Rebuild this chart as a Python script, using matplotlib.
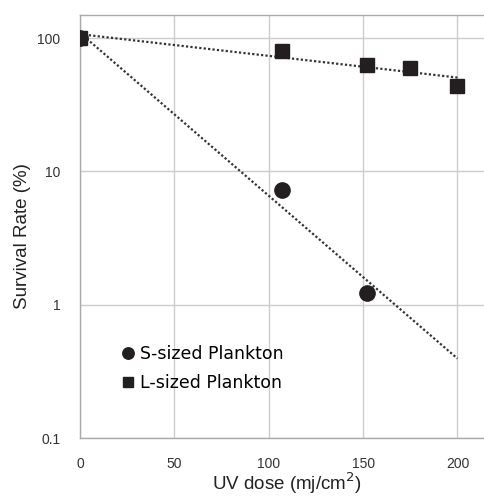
import numpy as np
import matplotlib.pyplot as plt

plt.rcParams['font.family'] = ['Liberation Sans', 'DejaVu Sans']

# data
dose_s = [0, 107, 152]
surv_s = [100, 7.3, 1.23]
dose_l = [0, 107, 152, 175, 200]
surv_l = [100, 79.8, 62.7, 59.6, 43.7]
x_ticks = [0, 50, 100, 150, 200]
y_ticks = [0.1, 1, 10, 100]
y_labels = ['0.1', '1', '10', '100']

ink = '#231f20'
grid_c = '#cccccc'

fig = plt.figure(figsize=(4.85, 4.97), dpi=100)
ax = fig.add_axes([80 / 485, 1 - 438 / 497, 1 - 80 / 485, (438 - 15) / 497])

# exponential trendlines (Excel-style fit)
xs = np.linspace(0, 200, 100)
for dx, dy in [(dose_s, surv_s), (dose_l, surv_l)]:
    b, a = np.polyfit(dx, np.log(dy), 1)
    ax.plot(xs, np.exp(a + b * xs), color='#333333', lw=1.6,
            linestyle=(0, (1, 1)), zorder=2)

ax.plot(dose_s, surv_s, 'o', ms=11, color=ink, label='S-sized Plankton', zorder=3)
ax.plot(dose_l, surv_l, 's', ms=10.5, color=ink, label='L-sized Plankton', zorder=4)

ax.set_yscale('log')
ax.set_xlim(0, 214.6)
ax.set_ylim(0.1, 149)
ax.set_xticks(x_ticks)
ax.set_yticks(y_ticks)
ax.set_yticklabels(y_labels)
ax.minorticks_off()
ax.tick_params(length=0, labelsize=10, colors='#333333')
ax.tick_params(axis='x', pad=14)
ax.tick_params(axis='y', pad=14)

ax.grid(True, color=grid_c, lw=1)
ax.set_axisbelow(True)
for side in ['left', 'bottom', 'top']:
    ax.spines[side].set_color('#aaaaaa')
    ax.spines[side].set_linewidth(1)
ax.spines['right'].set_visible(False)

ax.set_xlabel('UV dose (mj/cm$^2$)', fontsize=13.5, color='#222222')
ax.set_ylabel('Survival Rate (%)', fontsize=13.5, color='#222222')
ax.xaxis.set_label_coords((287 - 80) / 405, -(483 - 438) / 423)
ax.yaxis.set_label_coords(-(80 - 23) / 405, (438 - 236) / 423)
ax.xaxis.label.set_va('center')
ax.yaxis.label.set_va('center')

ax.legend(loc='upper left', bbox_to_anchor=(0.085, 0.24), frameon=False,
          markerscale=0.75, handlelength=0.6, handletextpad=0.35,
          labelspacing=0.6, borderpad=0,
          prop={'family': 'DejaVu Sans', 'size': 12.5})

fig.savefig('out.png', dpi=100)
